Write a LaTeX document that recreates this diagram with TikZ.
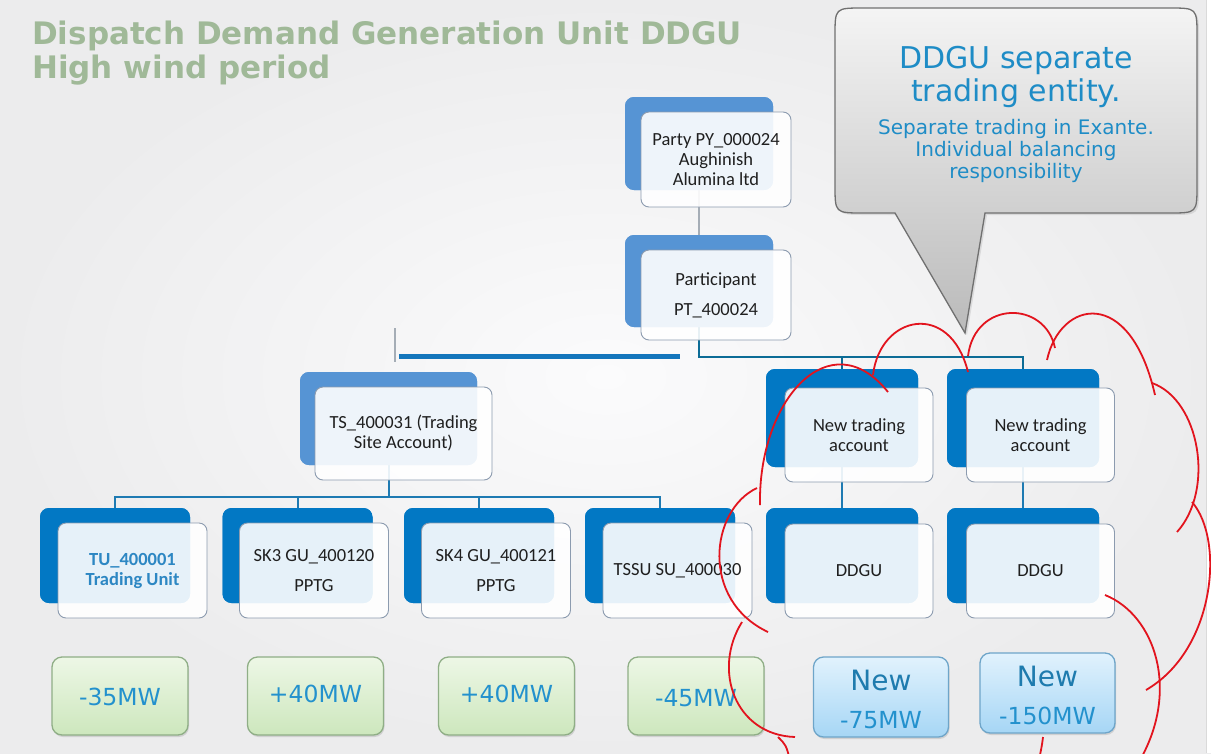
\documentclass[tikz,border=0pt]{standalone}
\usepackage{fontspec}
\setmainfont{Carlito}
\newfontfamily\vfont{DejaVu Sans}
\usetikzlibrary{shadows,calc}
\definecolor{backlight}{RGB}{86,148,212}
\definecolor{backdark}{RGB}{2,120,196}
\definecolor{frontline}{RGB}{140,155,175}
\definecolor{conn}{RGB}{30,122,178}
\definecolor{connteal}{RGB}{12,108,150}
\definecolor{grayconn}{RGB}{165,173,182}
\definecolor{barblue}{RGB}{20,118,188}
\definecolor{titlegreen}{RGB}{160,185,152}
\definecolor{calltext}{RGB}{30,140,198}
\definecolor{valtext}{RGB}{35,145,205}
\definecolor{tublue}{RGB}{45,135,195}
\definecolor{cloudred}{RGB}{226,20,30}
\definecolor{greenline}{RGB}{143,174,134}
\definecolor{blueline}{RGB}{110,165,201}
\begin{document}
\begin{tikzpicture}[x=1pt,y=-1pt,
  backL/.style={fill=backlight, rounded corners=9pt, inner sep=0pt, minimum width=148pt, minimum height=93pt},
  backD/.style={fill=backdark, rounded corners=9pt, inner sep=0pt, minimum width=150pt, minimum height=95pt},
  frontbox/.style={fill=white, fill opacity=0.9, text opacity=1, draw=frontline, line width=0.9pt,
     rounded corners=8pt, inner sep=0pt, align=center, minimum width=149pt, minimum height=95pt,
     font=\fontsize{18.5}{20}\selectfont, text=black!88},
  link/.style={draw=conn, line width=2pt},
  valg/.style={draw=greenline, line width=1.3pt, rounded corners=10pt, top color={rgb,255:red,237;green,247;blue,230},
     bottom color={rgb,255:red,205;green,231;blue,189}, minimum width=136pt, minimum height=78pt, inner sep=0pt,
     drop shadow={opacity=0.25, shadow xshift=1pt, shadow yshift=-2pt}},
  valb/.style={draw=blueline, line width=1.3pt, rounded corners=10pt, top color={rgb,255:red,225;green,242;blue,253},
     bottom color={rgb,255:red,166;green,214;blue,245}, minimum width=135pt, minimum height=80pt, inner sep=0pt,
     drop shadow={opacity=0.25, shadow xshift=1pt, shadow yshift=-2pt}},
  valtxt/.style={anchor=base, inner sep=0pt, text=valtext, font=\vfont\fontsize{23.5}{26}\selectfont},
  newtxt/.style={anchor=base, inner sep=0pt, text=valtext!85!black, font=\vfont\fontsize{28}{30}\selectfont},
  cloud/.style={draw=cloudred, line width=1.8pt},
  titletxt/.style={anchor=base west, inner sep=0pt, text=titlegreen, font=\vfont\bfseries\fontsize{31}{34}\selectfont},
  calltxt/.style={anchor=base, inner sep=0pt, text=calltext}
]
\useasboundingbox (0,0) rectangle (1211,753);
\shade[inner color={rgb,255:red,251;green,251;blue,252}, outer color={rgb,255:red,236;green,236;blue,237}] (0,0) rectangle (1211,753);
\draw[draw={rgb,255:red,218;green,218;blue,218}, line width=1pt] (1206,0) -- (1206,753);
\fill[white] (1207,0) rectangle (1211,753);

% title
\node[titletxt] (t1) at (32,44) {Dispatch Demand Generation Unit DDGU};
\node[titletxt] (t2) at (32,78) {High wind period};

% back boxes
\node[backL] (pb) at (699,143.5) {};
\node[backL, minimum height=92pt] (qb) at (699,281) {};
\node[backL, minimum width=177pt] (tb) at (388.5,418.5) {};
\node[backD] (u1b) at (115,555.5) {};
\node[backD] (u2b) at (297.5,555.5) {};
\node[backD] (u3b) at (479,555.5) {};
\node[backD] (u4b) at (660,555.5) {};
\node[backD, minimum width=152pt, minimum height=98pt] (n1b) at (842,418) {};
\node[backD, minimum width=152pt, minimum height=98pt] (n2b) at (1023,418) {};
\node[backD, minimum width=152pt] (d1b) at (842,555.5) {};
\node[backD, minimum width=152pt] (d2b) at (1023,555.5) {};

% bus coordinates
\coordinate (bus0) at (0,357);
\coordinate (bus1) at (0,497);
\coordinate (stubT) at (395,328);
\coordinate (stubB) at (395,362);
\coordinate (barL) at (399,356);
\coordinate (barR) at (680,356);

% connectors
\draw[draw=grayconn, line width=2pt] (pb.south) -- (qb.north);
\draw[draw=connteal, line width=2pt] (qb.south) -- (qb.south |- bus0) -| (n1b.north);
\draw[draw=connteal, line width=2pt] (qb.south |- bus0) -| (n2b.north);
\draw[draw=grayconn, line width=2pt] (stubT) -- (stubB);
\draw[draw=barblue, line width=5pt] (barL) -- (barR);
\draw[link] (tb.south) -- (tb.south |- bus1) -| (u1b.north);
\draw[link] (tb.south |- bus1) -| (u2b.north);
\draw[link] (tb.south |- bus1) -| (u3b.north);
\draw[link] (tb.south |- bus1) -| (u4b.north);
\draw[link] (n1b.south) -- (d1b.north);
\draw[link] (n2b.south) -- (d2b.north);

% redraw back boxes over connectors
\node[backL] at (pb) {};
\node[backL, minimum height=92pt] at (qb) {};
\node[backL, minimum width=177pt] at (tb) {};
\node[backD] at (u1b) {};
\node[backD] at (u2b) {};
\node[backD] at (u3b) {};
\node[backD] at (u4b) {};
\node[backD, minimum width=152pt, minimum height=98pt] at (n1b) {};
\node[backD, minimum width=152pt, minimum height=98pt] at (n2b) {};
\node[backD, minimum width=152pt] at (d1b) {};
\node[backD, minimum width=152pt] at (d2b) {};

% front boxes
\node[frontbox, minimum width=150pt] (pf) at (716,159.5) {Party PY\_000024\\Aughinish\\Alumina ltd};
\node[frontbox, minimum width=150pt, minimum height=90pt] (qf) at (716,295) {Participant\\[10pt]PT\_400024};
\node[frontbox, minimum width=177pt, minimum height=93pt] (tf) at (403.5,433.5) {TS\_400031 (Trading\\Site Account)};
\node[frontbox] (u1f) at (132.5,570.5) {\bfseries\color{tublue}TU\_400001\\\bfseries\color{tublue}Trading Unit};
\node[frontbox] (u2f) at (314,570.5) {SK3 GU\_400120\\[10pt]PPTG};
\node[frontbox] (u3f) at (496,570.5) {SK4 GU\_400121\\[10pt]PPTG};
\node[frontbox] (u4f) at (677.5,570.5) {TSSU SU\_400030};
\node[frontbox, minimum width=148pt, minimum height=94pt] (n1f) at (859,435) {New trading\\account};
\node[frontbox, minimum width=148pt, minimum height=94pt] (n2f) at (1040.5,435) {New trading\\account};
\node[frontbox, minimum width=148pt, minimum height=94pt] (d1f) at (859,571) {DDGU};
\node[frontbox, minimum width=148pt, minimum height=94pt] (d2f) at (1040.5,571) {DDGU};

% value boxes
\node[valg] (v1) at (120,696) {};
\node[valg] (v2) at (315.5,696) {};
\node[valg] (v3) at (506.5,696) {};
\node[valg] (v4) at (696,696) {};
\node[valb] (v5) at (881,697) {};
\node[valb] (v6) at (1047.5,693) {};
\node[valtxt] (v1t) at (120,705) {-35MW};
\node[valtxt] (v2t) at (315.5,702) {+40MW};
\node[valtxt] (v3t) at (506.5,702) {+40MW};
\node[valtxt] (v4t) at (696,706) {-45MW};
\node[newtxt] (v5n) at (881,690) {New};
\node[valtxt] (v5t) at (881,728) {-75MW};
\node[newtxt] (v6n) at (1047.5,686) {New};
\node[valtxt] (v6t) at (1047.5,724) {-150MW};

% callout
\path[draw={rgb,255:red,112;green,112;blue,112}, line width=1.3pt,
      top color={rgb,255:red,244;green,244;blue,244}, bottom color={rgb,255:red,186;green,186;blue,186},
      drop shadow={opacity=0.2, shadow xshift=2pt, shadow yshift=-2pt}]
  (895,213) -- (965,333) -- (985,213) -- (1169,213) .. controls (1197,213) .. (1197,185)
  -- (1197,36) .. controls (1197,8) .. (1169,8) -- (863,8) .. controls (835,8) .. (835,36)
  -- (835,185) .. controls (835,213) .. (863,213) -- cycle;
\node[calltxt, font=\vfont\fontsize{30}{33}\selectfont] (c1) at (1016,68) {DDGU separate};
\node[calltxt, font=\vfont\fontsize{30}{33}\selectfont] (c2) at (1016,101) {trading entity.};
\node[calltxt, font=\vfont\fontsize{20}{22}\selectfont] (c3) at (1016,134) {Separate trading in Exante.};
\node[calltxt, font=\vfont\fontsize{20}{22}\selectfont] (c4) at (1016,156) {Individual balancing};
\node[calltxt, font=\vfont\fontsize{20}{22}\selectfont] (c5) at (1016,178) {responsibility};

% red cloud
\begin{scope}
\clip (0,0) rectangle (1211,753);
\draw[cloud] (760,505) .. controls (758,400) and (830,320) .. (888,392);
\draw[cloud] (873,375) .. controls (880,315) and (950,300) .. (968,372);
\draw[cloud] (968,356) .. controls (975,300) and (1045,300) .. (1055,348);
\draw[cloud] (1047,360) .. controls (1060,300) and (1130,285) .. (1155,395);
\draw[cloud] (1152,383) .. controls (1200,400) and (1215,490) .. (1177,532);
\draw[cloud] (1192,502) .. controls (1225,540) and (1215,650) .. (1146,690);
\draw[cloud] (1105,595) .. controls (1155,615) and (1180,690) .. (1140,760);
\draw[cloud] (1043,737) .. controls (1042,745) .. (1039,760);
\draw[cloud] (757,488) .. controls (710,510) and (700,600) .. (768,632);
\draw[cloud] (742,622) .. controls (712,670) and (735,735) .. (795,737);
\draw[cloud] (778,737) .. controls (786,745) .. (790,760);
\end{scope}
\end{tikzpicture}
\end{document}
